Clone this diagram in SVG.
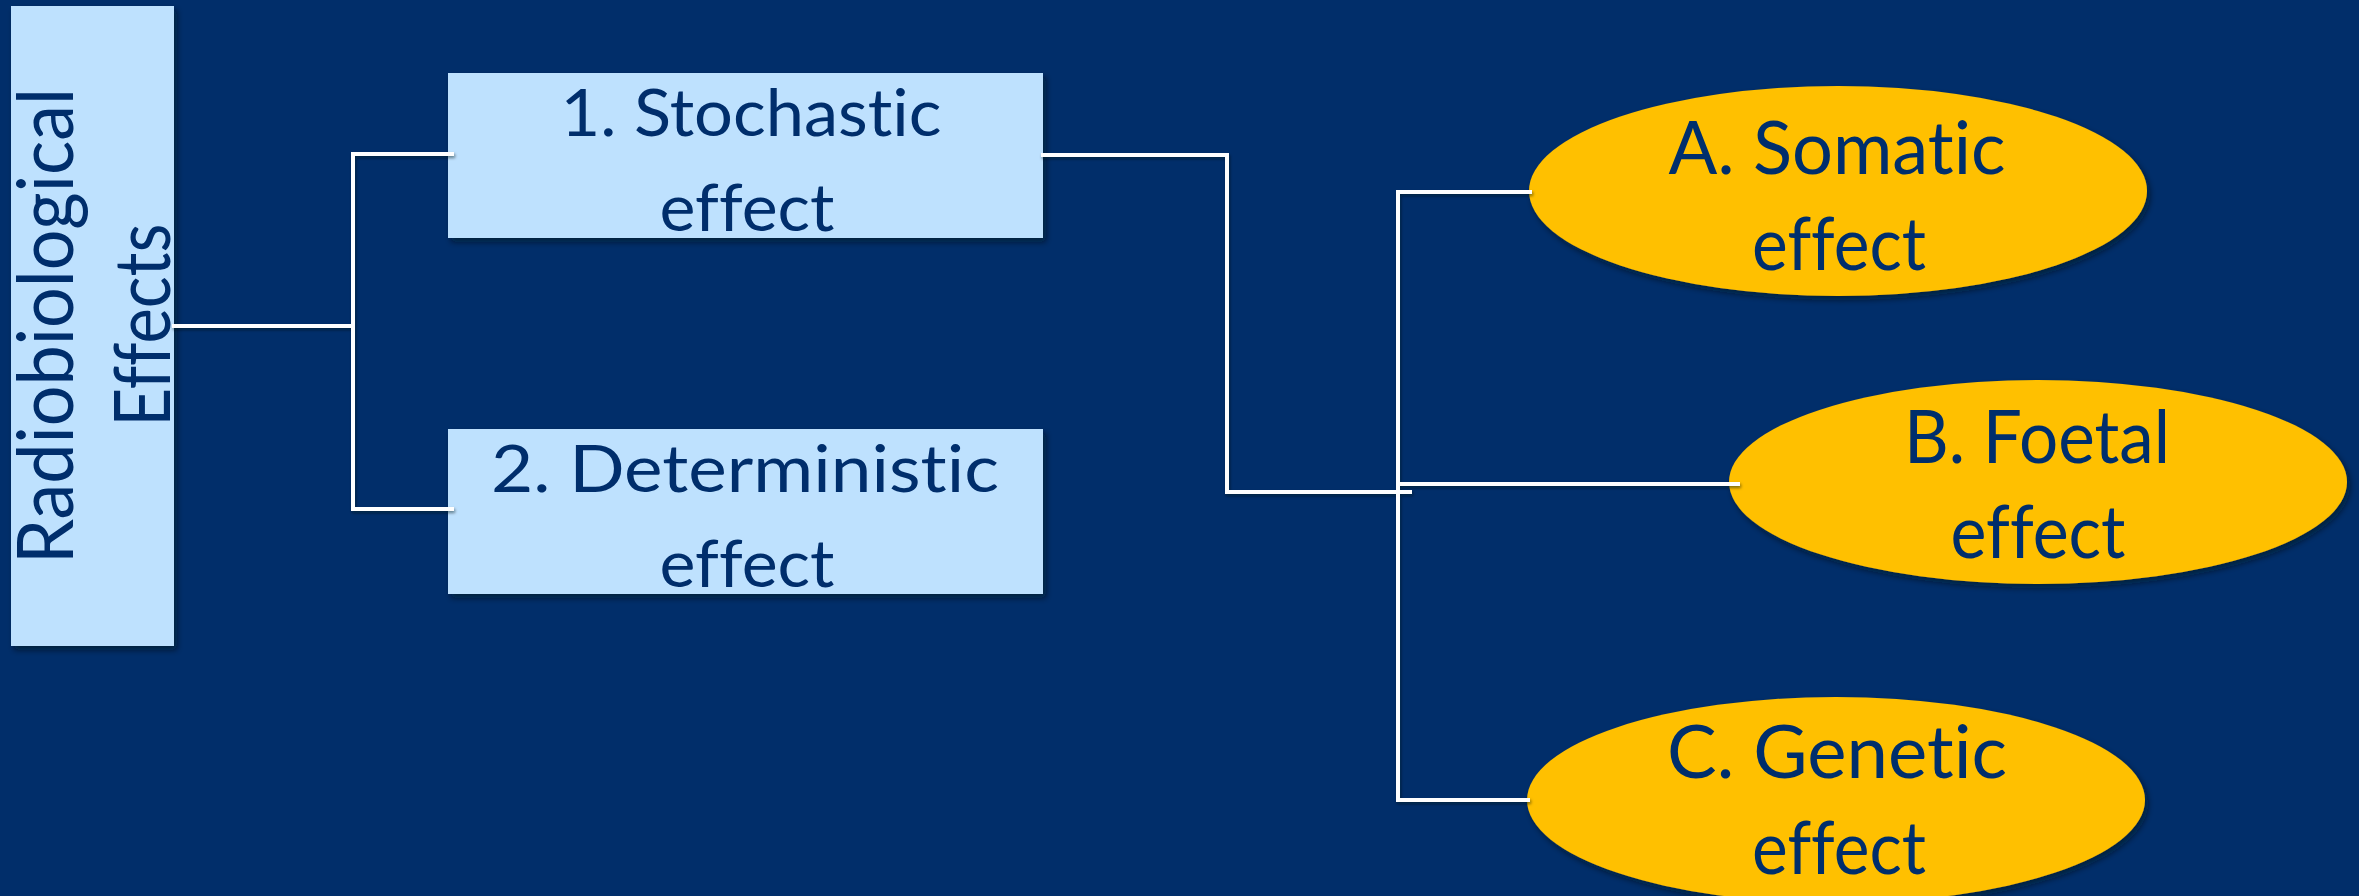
<svg xmlns="http://www.w3.org/2000/svg" width="2359" height="896" viewBox="0 0 2359 896">
  <defs>
    <filter id="sh" x="-10%" y="-10%" width="125%" height="130%">
      <feDropShadow dx="3" dy="4" stdDeviation="3" flood-color="#000814" flood-opacity="0.55"/>
    </filter>
    <filter id="lsh" x="-5%" y="-5%" width="110%" height="110%">
      <feDropShadow dx="1" dy="2" stdDeviation="1.5" flood-color="#000814" flood-opacity="0.5"/>
    </filter>
  </defs>
  <style>
    .box { fill: #BEE1FE; }
    .ell { fill: #FFC000; }
    .t { font-family: Lato, "Open Sans", "Liberation Sans", sans-serif; fill: #002E6C; text-anchor: middle; font-variant-ligatures: none; font-feature-settings: "liga" 0, "clig" 0; }
    .tb { font-size: 66px; }
    .te { font-size: 73px; }
    .tr { font-size: 77px; }
    .ln { fill: none; stroke: #FFFFFF; stroke-width: 4; stroke-linecap: square; }
  </style>
  <rect x="0" y="0" width="2359" height="896" fill="#012E6A"/>

  <g id="root" filter="url(#sh)">
    <rect class="box" x="11" y="6" width="163" height="640"/>
    <text class="t tr" transform="translate(73,326) rotate(-90)" textLength="476" lengthAdjust="spacingAndGlyphs">Radiobiological</text>
    <text class="t tr" transform="translate(170,325) rotate(-90)" textLength="203" lengthAdjust="spacingAndGlyphs">Effects</text>
  </g>

  <g id="stochastic" filter="url(#sh)">
    <rect class="box" x="448" y="73" width="595" height="165"/>
    <text class="t tb" x="751" y="136" textLength="381" lengthAdjust="spacingAndGlyphs">1. Stochastic</text>
    <text class="t tb" x="747" y="231" textLength="175" lengthAdjust="spacingAndGlyphs">effect</text>
  </g>

  <g id="deterministic" filter="url(#sh)">
    <rect class="box" x="448" y="429" width="595" height="165"/>
    <text class="t tb" x="745" y="492" textLength="508" lengthAdjust="spacingAndGlyphs">2. Deterministic</text>
    <text class="t tb" x="747" y="587" textLength="175" lengthAdjust="spacingAndGlyphs">effect</text>
  </g>

  <g id="somatic" filter="url(#sh)">
    <ellipse class="ell" cx="1838" cy="191" rx="309" ry="105"/>
    <text class="t te" x="1837" y="174" textLength="337" lengthAdjust="spacingAndGlyphs">A. Somatic</text>
    <text class="t te" x="1839" y="270" textLength="174" lengthAdjust="spacingAndGlyphs">effect</text>
  </g>

  <g id="foetal" filter="url(#sh)">
    <ellipse class="ell" cx="2038" cy="482" rx="309" ry="102"/>
    <text class="t te" x="2037" y="463" textLength="266" lengthAdjust="spacingAndGlyphs">B. Foetal</text>
    <text class="t te" x="2038" y="558" textLength="175" lengthAdjust="spacingAndGlyphs">effect</text>
  </g>

  <g id="genetic" filter="url(#sh)">
    <ellipse class="ell" cx="1836" cy="800" rx="309" ry="103"/>
    <text class="t te" x="1837" y="778" textLength="340" lengthAdjust="spacingAndGlyphs">C. Genetic</text>
    <text class="t te" x="1839" y="874" textLength="174" lengthAdjust="spacingAndGlyphs">effect</text>
  </g>

  <g id="connectors" filter="url(#lsh)">
    <path class="ln" d="M174 326 H353"/>
    <path class="ln" d="M452 154 H353 V509 H452"/>
    <path class="ln" d="M1043 155 H1227 V492 H1410"/>
    <path class="ln" d="M1530 192 H1398 V800 H1528"/>
    <path class="ln" d="M1402 484 H1738"/>
  </g>
</svg>
